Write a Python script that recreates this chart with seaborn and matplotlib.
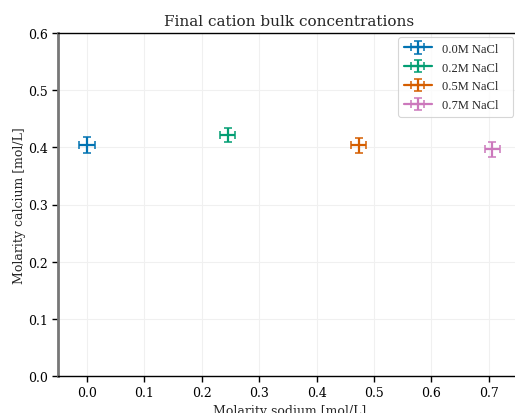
import matplotlib
matplotlib.use("Agg")
import matplotlib.pyplot as plt
import seaborn as sns

# Final bulk concentrations for each NaCl series
labels = ["0.0M NaCl", "0.2M NaCl", "0.5M NaCl", "0.7M NaCl"]
sodium = [0.0, 0.245, 0.473, 0.706]
sodium_err = [0.0136, 0.0136, 0.0128, 0.0127]
calcium = [0.404, 0.4215, 0.4035, 0.3965]
calcium_err = [0.0134, 0.013, 0.0128, 0.0126]

x_ticks = [0.0, 0.1, 0.2, 0.3, 0.4, 0.5, 0.6, 0.7]
y_ticks = [0.0, 0.1, 0.2, 0.3, 0.4, 0.5, 0.6]

sns.set_theme(style="whitegrid")
plt.rcParams["font.family"] = ["DejaVu Serif"]
cb = sns.color_palette("colorblind")
palette = [cb[0], cb[2], cb[3], cb[4]]

fig = plt.figure(figsize=(5.15, 4.14), dpi=100)
ax = fig.add_axes([58 / 515, 1 - 377 / 414, (521 - 58) / 515, (377 - 34) / 414])

for lab, x, xe, y, ye, c in zip(labels, sodium, sodium_err, calcium, calcium_err, palette):
    ax.errorbar(x, y, xerr=xe, yerr=ye, fmt="-", color=c, lw=1.6, elinewidth=1.6,
                capsize=3, capthick=1.1, label=lab)

ax.set_xlim(-0.0505, 0.756)
ax.set_ylim(0.0, 0.6)
ax.set_xticks(x_ticks)
ax.set_yticks(y_ticks)
ax.set_xticklabels([f"{t:.1f}" for t in x_ticks], fontsize=9)
ax.set_yticklabels([f"{t:.1f}" for t in y_ticks], fontsize=9)
ax.tick_params(axis="both", which="major", length=4, width=1, color="black",
               bottom=True, left=True, pad=3, labelcolor="black")
ax.grid(True, color="#f0f0f0", linewidth=0.8)
ax.set_facecolor("white")

for side in ["top", "bottom"]:
    ax.spines[side].set_color("black")
    ax.spines[side].set_linewidth(1.0)
ax.spines["left"].set_color("#777777")
ax.spines["left"].set_linewidth(2.0)
ax.spines["right"].set_visible(False)

ax.set_title("Final cation bulk concentrations", fontsize=11, pad=6)
ax.set_xlabel("Molarity sodium [mol/L]", fontsize=9, labelpad=4)
ax.set_ylabel("Molarity calcium [mol/L]", fontsize=9, labelpad=2)

# legend box spanning a fixed strip in the upper right corner
leg = ax.legend(loc="upper left",
                bbox_to_anchor=(398 / 515, 1 - 118 / 414, 115 / 515, 80 / 414),
                bbox_transform=fig.transFigure, mode="expand", borderaxespad=0,
                prop={"family": "Liberation Serif", "size": 9},
                frameon=True, handlelength=2.25, labelspacing=0.55,
                handletextpad=0.8, borderpad=0.45)
leg.get_frame().set_edgecolor("#cccccc")
leg.get_frame().set_linewidth(0.8)

fig.savefig("out.png", dpi=100)
